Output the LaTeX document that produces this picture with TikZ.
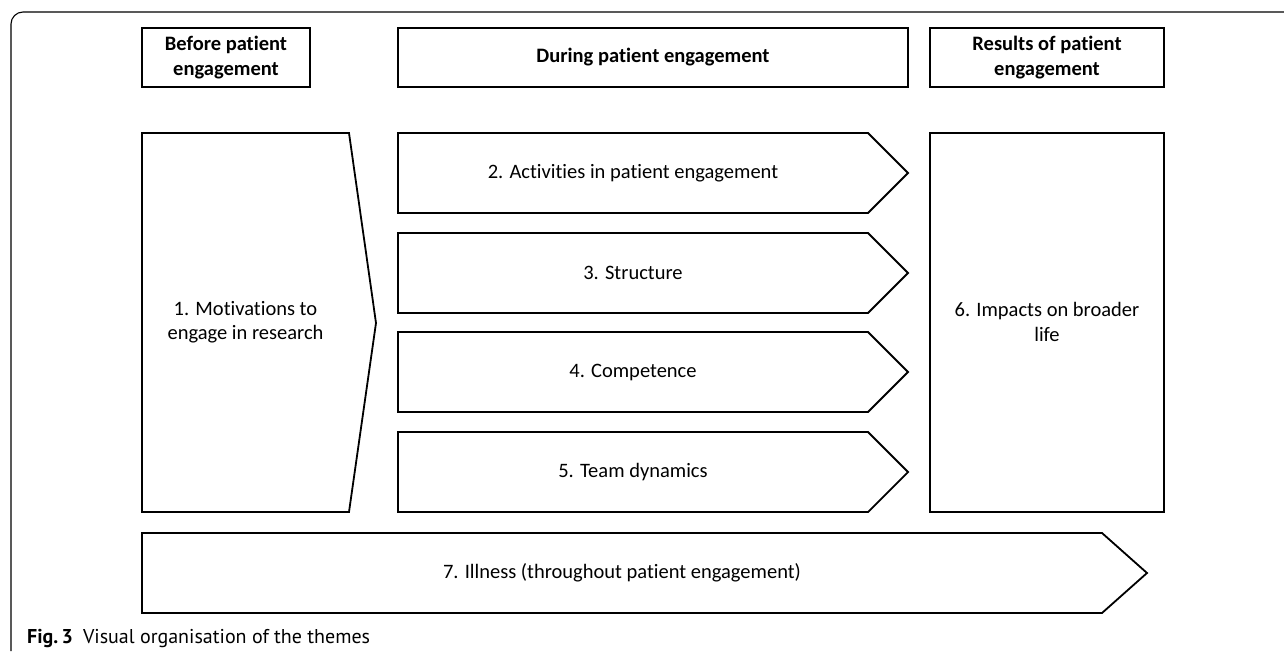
\documentclass[tikz,border=0pt]{standalone}
\usepackage{fontspec}
\setmainfont[Ligatures=NoCommon]{Carlito}
\newfontfamily\capfont{PT Sans}
\usetikzlibrary{positioning}

\tikzset{
  shapeline/.style={line width=1.8pt, draw=black},
  headbox/.style={shapeline, minimum height=59pt, font=\fontsize{20.5}{24.5}\selectfont\bfseries, align=center, inner sep=0pt},
  themetext/.style={font=\fontsize{20.5}{24.5}\selectfont, align=center}
}

\begin{document}
\begin{tikzpicture}[x=1pt,y=-1pt]

  \useasboundingbox (0,0) rectangle (1284,651);

  % outer frame of the figure
  \draw [line width=1.1pt] (11,651) -- (11,24) arc [start angle=180, end angle=90, radius=12pt] -- (1284,12);

  % column heads
  \node [headbox, minimum width=168pt] (before) at (226,57.5) {Before patient\\engagement};
  \node [headbox, minimum width=510pt] (during) at (653,57.5) {During patient engagement};
  \node [headbox, minimum width=234pt] (results) at (1047,57.5) {Results of patient\\engagement};

  % theme 1
  \draw [shapeline] (142,133) -- (349,133) -- (376,323) -- (349,512) -- (142,512) -- cycle;
  \node [themetext] (motiv) at (245.5,322) {1. Motivations to\\engage in research};

  % themes 2 to 5
  \foreach \lbl/\top [count=\ni from 2] in {
      {2. Activities in patient engagement}/133,
      {3. Structure}/233,
      {4. Competence}/332,
      {5. Team dynamics}/432}
  {
    \draw [shapeline] (398,\top) -- (868,\top) -- (908,{\top+40}) -- (868,{\top+80}) -- (398,{\top+80}) -- cycle;
    \node [themetext] (theme\ni) at (633,{\top+40}) {\lbl};
  }

  % theme 6
  \draw [shapeline] (930,133) rectangle (1164,512);
  \node [themetext] (impacts) at (1047,322) {6. Impacts on broader\\life};

  % theme 7
  \draw [shapeline] (142,533) -- (1102,533) -- (1147,573) -- (1102,613) -- (142,613) -- cycle;
  \node [themetext] (illness) at (622,573) {7. Illness (throughout patient engagement)};

  % caption
  \node [anchor=base west, inner sep=0pt, font=\capfont\fontsize{20}{24}\selectfont] (caption) at (27,643) {\textbf{Fig.\,3}\enspace Visual organisation of the themes};

\end{tikzpicture}
\end{document}
